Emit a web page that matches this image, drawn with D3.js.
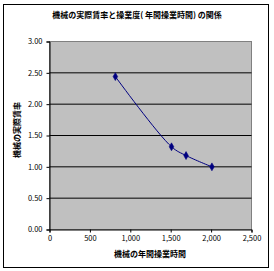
<!DOCTYPE html>
<html><head><meta charset="utf-8">
<script src="https://cdn.jsdelivr.net/npm/d3@7"></script>
<style>body{margin:0;background:#fff}svg{display:block}text{font-family:"Noto Sans CJK JP",sans-serif}</style>
</head><body>
<script>
const title = "機械の実際賃率と操業度( 年間操業時間) の関係";
const xLabel = "機械の年間操業時間";
const yLabel = "機械の実際賃率";
const hours = [815, 1510, 1690, 2010];
const rates = [2.44, 1.32, 1.18, 1.00];
const xTicks = [0, 500, 1000, 1500, 2000, 2500];
const yTicks = [0, 0.5, 1, 1.5, 2, 2.5, 3];

const W = 274, H = 271;
const svg = d3.select("body").append("svg").attr("width", W).attr("height", H);
svg.append("rect").attr("x", 3.5).attr("y", 4.5).attr("width", 265).attr("height", 263)
  .attr("fill", "#fff").attr("stroke", "#000");

const x = d3.scaleLinear().domain([0, 2500]).range([49.5, 251.5]);
const y = d3.scaleLinear().domain([0, 3]).range([229.5, 41.5]);

svg.append("rect").attr("x", x(0)).attr("y", y(3)).attr("width", x(2500) - x(0)).attr("height", y(0) - y(3))
  .attr("fill", "#c0c0c0").attr("stroke", "#808080");

svg.append("g").selectAll("line").data(yTicks.filter(d => d > 0 && d < 3)).join("line")
  .attr("x1", x(0)).attr("x2", x(2500)).attr("y1", d => y(d)).attr("y2", d => y(d))
  .attr("stroke", "#000");

const fmtX = d3.format(",");
const xAxis = svg.append("g").attr("transform", `translate(0,${y(0)})`)
  .call(d3.axisBottom(x).tickValues(xTicks).tickSize(3).tickFormat(fmtX));
const yAxis = svg.append("g").attr("transform", `translate(${x(0)},0)`)
  .call(d3.axisLeft(y).tickValues(yTicks).tickSize(3).tickFormat(d3.format(".2f")));
[xAxis, yAxis].forEach(g => {
  g.selectAll("path").attr("stroke", "#000");
  g.selectAll("line").attr("stroke", "#000");
  g.selectAll("text").attr("font-size", 7.5).attr("fill", "#000").attr("font-family", '"Noto Sans CJK JP",sans-serif');
});
xAxis.selectAll("text").attr("dy", "0.9em").attr("y", 5);
yAxis.selectAll("text").attr("x", -7);

const pts = hours.map((h, i) => [h, rates[i]]);
svg.append("path").datum(pts)
  .attr("d", d3.line().x(d => x(d[0])).y(d => y(d[1])).curve(d3.curveCatmullRom.alpha(0.5)))
  .attr("fill", "none").attr("stroke", "#000080").attr("stroke-width", 1);
svg.append("g").selectAll("path").data(pts).join("path")
  .attr("transform", d => `translate(${x(d[0])},${y(d[1])})`)
  .attr("d", d3.symbol(d3.symbolDiamond, 18))
  .attr("fill", "#000080").attr("stroke", "#000080").attr("stroke-width", 0.6);

svg.append("text").attr("x", 137).attr("y", 18).attr("text-anchor", "middle")
  .attr("font-size", 8).attr("font-weight", "bold").text(title);
svg.append("text").attr("x", 150).attr("y", 257).attr("text-anchor", "middle")
  .attr("font-size", 8).attr("font-weight", "bold").text(xLabel);
svg.append("text").attr("transform", "translate(20,130) rotate(-90)").attr("text-anchor", "middle")
  .attr("font-size", 8).attr("font-weight", "bold").text(yLabel);
</script>
</body></html>
